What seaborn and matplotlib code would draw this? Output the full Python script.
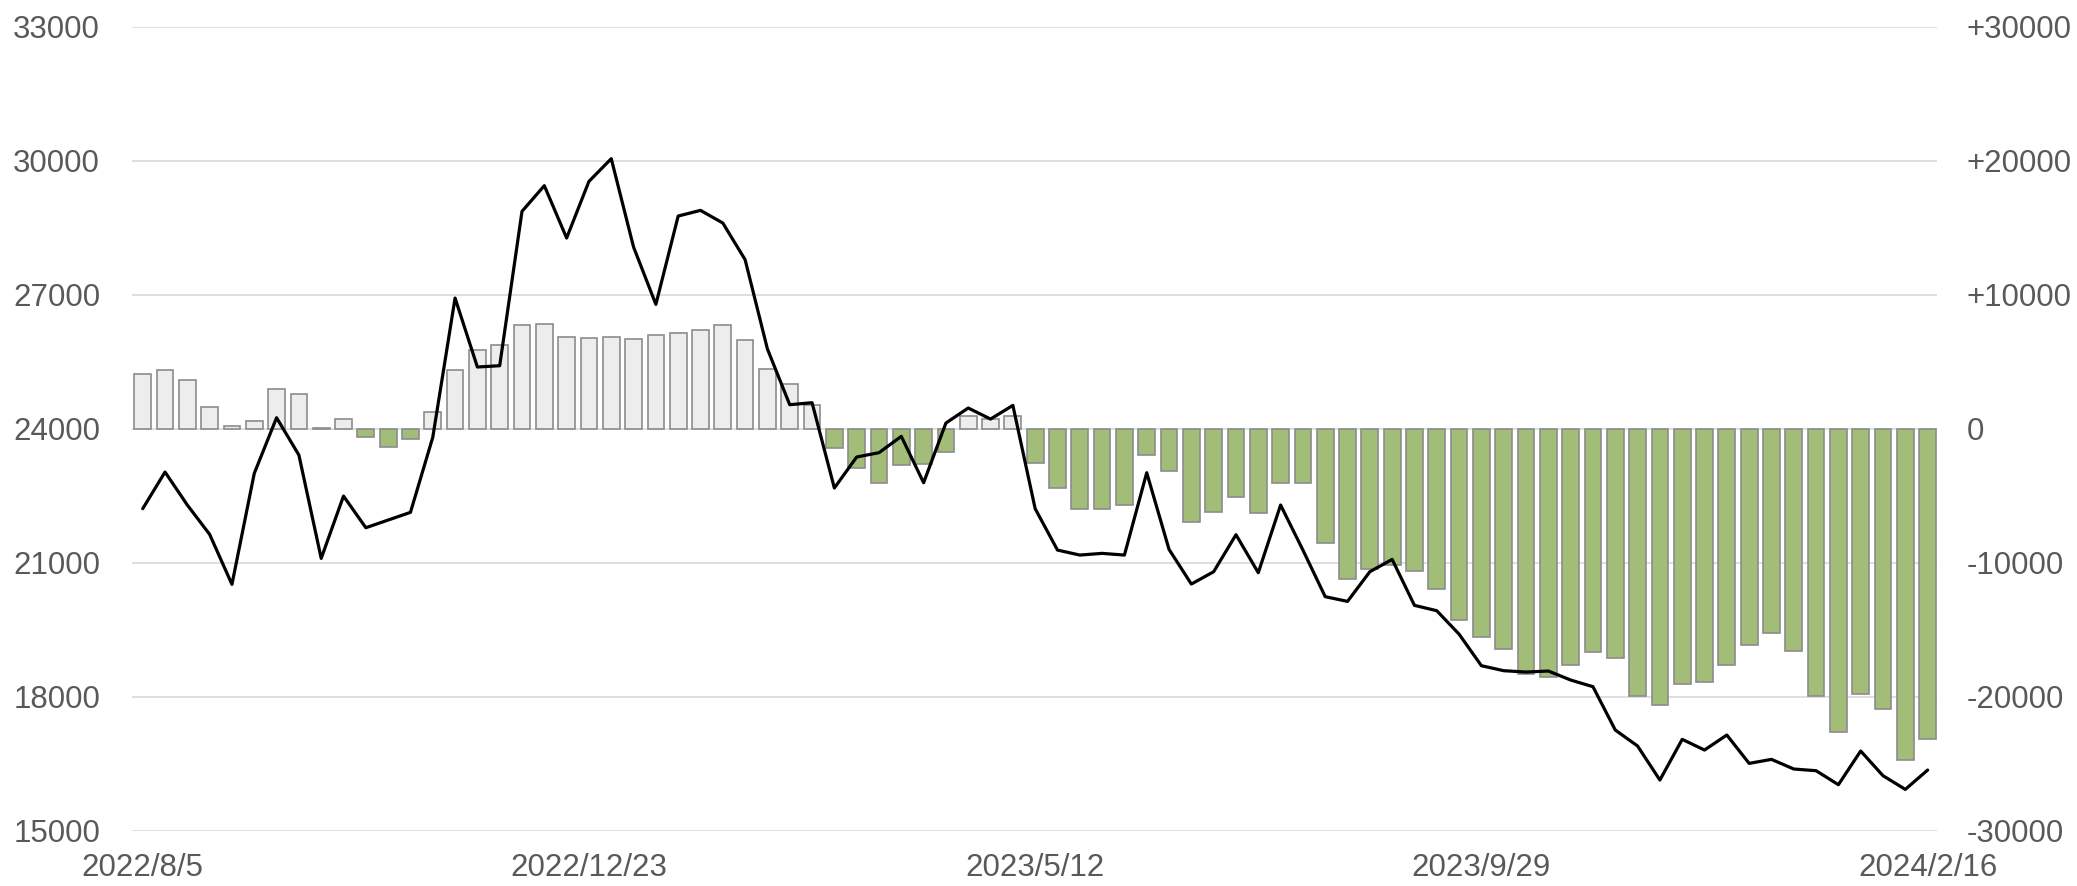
import numpy as np
import pandas as pd
import matplotlib
matplotlib.use("Agg")
import matplotlib.pyplot as plt
import seaborn as sns

# ---------------- data ----------------
start_date = "2022-08-05"   # weekly observations
price = [22209, 23030, 22291, 21634, 20515, 23000, 24246, 23410, 21097, 22492,
         21783, 21955, 22127, 23806, 26925, 25381, 25410, 28866, 29441, 28269,
         29537, 30045, 28067, 26783, 28761, 28888, 28605, 27784, 25784, 24537,
         24582, 22672, 23366, 23463, 23828, 22791, 24127, 24463, 24216, 24522,
         22209, 21283, 21171, 21209, 21171, 23015, 21298, 20522, 20798, 21627,
         20776, 22291, 21283, 20239, 20134, 20798, 21074, 20045, 19925, 19400,
         18694, 18582, 18552, 18575, 18373, 18224, 17254, 16896, 16134, 17045,
         16806, 17142, 16507, 16597, 16381, 16343, 16030, 16784, 16231, 15925,
         16358]
change = [4100, 4400, 3600, 1600, 200, 600, 3000, 2600, 50, 700,
          -650, -1400, -800, 1250, 4400, 5870, 6270, 7740, 7790, 6830,
          6790, 6840, 6690, 6960, 7140, 7360, 7760, 6640, 4450, 3330,
          1740, -1470, -2910, -4050, -2740, -2610, -1770, 950, 720, 980,
          -2570, -4420, -6000, -5970, -5670, -1970, -3130, -6970, -6240, -5120,
          -6320, -4080, -4080, -8530, -11190, -10450, -10170, -10650, -11940, -14290,
          -15570, -16470, -18310, -18510, -17660, -16670, -17140, -19930, -20620, -19080,
          -18930, -17640, -16170, -15270, -16590, -19980, -22660, -19800, -20920, -24730,
          -23180]
left_ticks = [15000, 18000, 21000, 24000, 27000, 30000, 33000]
right_ticks = [-30000, -20000, -10000, 0, 10000, 20000, 30000]
right_tick_labels = ["-30000", "-20000", "-10000", "0", "+10000", "+20000", "+30000"]
x_tick_step = 20

# ---------------- build ----------------
dates = pd.date_range(start_date, periods=len(price), freq="7D")
labels = [f"{d.year}/{d.month}/{d.day}" for d in dates]
df = pd.DataFrame({"date": labels, "idx": np.arange(len(labels)),
                   "price": price, "change": change})
df["sign"] = np.where(df["change"] >= 0, "up", "down")

sns.set_theme(style="white")
plt.rcParams['font.family'] = ['Liberation Sans', 'DejaVu Sans']

txt_color = "#595959"
fs = 22.5

fig = plt.figure(figsize=(20.77, 8.86), dpi=100)
ax1 = fig.add_axes([132 / 2077, 1 - 830.7 / 886, (1937 - 132) / 2077, (830.7 - 26.7) / 886])

sns.barplot(data=df, x="date", y="change", hue="sign", order=labels,
            palette={"up": "#EDEDED", "down": "#A2BD78"}, saturation=1,
            dodge=False, width=0.75, edgecolor="#8C8C8C", linewidth=1.2,
            legend=False, ax=ax1, zorder=2)

ax2 = ax1.twinx()
sns.lineplot(data=df, x="idx", y="price", color="black", linewidth=2.3, ax=ax2)

# axes configuration
ax1.yaxis.tick_right()
ax1.yaxis.set_label_position("right")
ax2.yaxis.tick_left()
ax2.yaxis.set_label_position("left")

ax1.set_ylim(-30000, 30000)
ax1.set_yticks(right_ticks)
ax1.set_yticklabels(right_tick_labels)
ax2.set_ylim(15000, 33000)
ax2.set_yticks(left_ticks)
ax2.set_yticklabels([str(v) for v in left_ticks])

ax1.set_xlim(-0.48, len(labels) - 1 + 0.42)
xt = list(range(0, len(labels), x_tick_step))
ax1.set_xticks(xt)
ax1.set_xticklabels([labels[i] for i in xt])

ax1.grid(axis="y", color="#D9D9D9", linewidth=1.2, zorder=0)
ax1.grid(axis="x", visible=False)
ax1.set_axisbelow(True)
ax2.grid(False)

for a in (ax1, ax2):
    a.set_xlabel("")
    a.set_ylabel("")
    for s in a.spines.values():
        s.set_visible(False)

ax1.tick_params(axis="y", length=0, labelsize=fs, labelcolor=txt_color, pad=21.5)
ax1.tick_params(axis="x", length=0, labelsize=fs, labelcolor=txt_color, pad=16)
ax2.tick_params(axis="y", length=0, labelsize=fs, labelcolor=txt_color, pad=23)

fig.savefig("out.png", dpi=100)
